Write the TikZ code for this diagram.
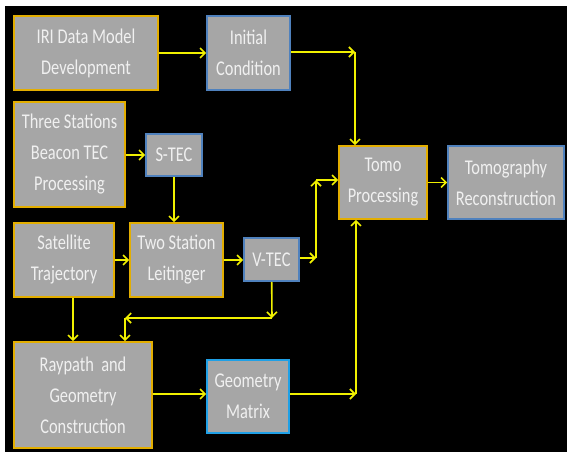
\documentclass[tikz,border=0pt]{standalone}
\usepackage{fontspec}
\setmainfont{Carlito}[FakeStretch=0.78]
\usepackage{tikz}
\usetikzlibrary{arrows.meta,positioning,calc}
\definecolor{boxgray}{HTML}{A6A6A6}
\definecolor{boxtext}{HTML}{F0F0F0}
\definecolor{edgeorange}{HTML}{E3AE00}
\definecolor{edgeblue}{HTML}{4F81BD}
\definecolor{edgecyan}{HTML}{1FA0E6}
\definecolor{flowyellow}{HTML}{F0F000}

\tikzset{
  block/.style={fill=boxgray, line width=1.6pt, text=boxtext, align=center,
    inner sep=0pt, font=\fontsize{21}{31}\selectfont},
  orangebox/.style={block, draw=edgeorange},
  bluebox/.style={block, draw=edgeblue},
  cyanbox/.style={block, draw=edgecyan},
  flow/.style={flowyellow, line width=1.6pt, -{Straight Barb[length=5pt,width=10pt]}}
}

\begin{document}
\begin{tikzpicture}[x=1pt,y=-1pt]
% Frame
\useasboundingbox (0,0) rectangle (567,452);
\fill[white] (0,0) rectangle (567,452);
\fill[black] (5,6) rectangle (567,452);
% Boxes
\node[orangebox, minimum width=144pt, minimum height=74pt] (iri) at (86,53) {IRI Data Model\\Development};
\node[bluebox, minimum width=83pt, minimum height=74pt] (init) at (248.5,53) {Initial\\Condition};
\node[orangebox, minimum width=111pt, minimum height=105pt] (three) at (69.5,154.5) {Three Stations\\Beacon TEC\\Processing};
\node[bluebox, minimum width=56pt, minimum height=42pt] (stec) at (174,155) {S-TEC};
\node[orangebox, minimum width=100pt, minimum height=74pt] (sat) at (64,260) {Satellite\\Trajectory};
\node[orangebox, minimum width=93pt, minimum height=74pt] (two) at (176.5,260) {Two Station\\Leitinger};
\node[bluebox, minimum width=55pt, minimum height=43pt] (vtec) at (271.5,259.5) {V-TEC};
\node[orangebox, minimum width=138pt, minimum height=106pt] (ray) at (83,395) {Raypath\ \ and\\Geometry\\Construction};
\node[cyanbox, minimum width=82pt, minimum height=73pt] (geo) at (248,396.5) {Geometry\\Matrix};
\node[orangebox, minimum width=88pt, minimum height=73pt] (tomo) at (383,182.5) {Tomo\\Processing};
\node[bluebox, minimum width=116pt, minimum height=73pt] (recon) at (506,182.5) {Tomography\\Reconstruction};
% Bends
\coordinate (ibend) at (355,52);
\coordinate (vbend) at (272,318);
\coordinate (rbend) at (125,318);
\coordinate (tbend) at (316,258);
\coordinate (ubend) at (316,180);
\coordinate (gbend) at (356,394);
% Connectors
\draw[flow] (iri) -- (init);
\draw[flow] (init.east |- ibend) -- (ibend);
\draw[flow] (ibend) -- (ibend |- tomo.north);
\draw[flow] (three.east |- stec) -- (stec);
\draw[flow] (stec) -- (stec |- two.north);
\draw[flow] (sat) -- (two);
\draw[flow] (two) -- (two -| vtec.west);
\draw[flow] (vtec) -- (vbend);
\draw[flow] (vbend) -- (rbend);
\draw[flow] (rbend) -- (rbend |- ray.north);
\draw[flow] ([xshift=9pt]sat.south) -- ([xshift=9pt]sat.south |- ray.north);
\draw[flow] (ray.east |- gbend) -- (geo.west |- gbend);
\draw[flow] (geo.east |- gbend) -- (gbend);
\draw[flow] (gbend) -- (gbend |- tomo.south);
\draw[flow] (vtec.east |- tbend) -- (tbend);
\draw[flow] (tbend) -- (ubend);
\draw[flow] (ubend) -- (ubend -| tomo.west);
\draw[flow] (tomo) -- (recon);
\end{tikzpicture}
\end{document}
